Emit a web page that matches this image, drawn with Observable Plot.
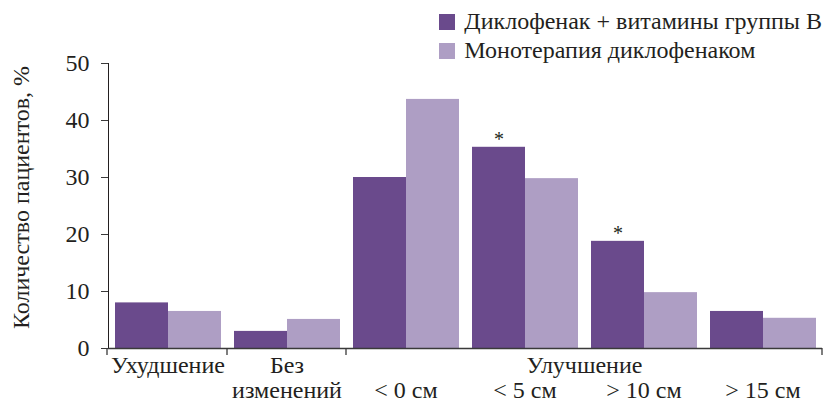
<!DOCTYPE html>
<html><head><meta charset="utf-8">
<script src="https://cdn.jsdelivr.net/npm/d3@7"></script>
<script src="https://cdn.jsdelivr.net/npm/@observablehq/plot@0.6"></script>
<style>
body{margin:0;background:#fff;}
#wrap{position:relative;width:826px;height:407px;font-family:'Liberation Serif',serif;color:#231f20;}
.legend{position:absolute;right:4px;top:7px;font-family:'Liberation Serif',serif;font-size:24px;}
.item{display:flex;align-items:center;height:29px;white-space:nowrap;}
.sw{width:16px;height:16px;margin-right:9px;flex:none;}
</style></head><body><div id="wrap"></div>
<script>
const categories = ["Ухудшение","Без изменений","< 0 см","< 5 см","> 10 см","> 15 см"];
const labelsTop = ["Ухудшение","Без","","","",""];
const labelsBottom = ["","изменений","< 0 см","< 5 см","> 10 см","> 15 см"];
const groupLabel = "Улучшение";
const seriesNames = ["Диклофенак + витамины группы В","Монотерапия диклофенаком"];
const combo = [8.0, 3.0, 30.0, 35.3, 18.8, 6.5];
const mono = [6.5, 5.1, 43.7, 29.8, 9.8, 5.3];
const significant = ["< 5 см", "> 10 см"];
const yTicks = [0,10,20,30,40,50];
const colors = ["#6a4a8c","#ae9ec4"];
const yLabel = "Количество пациентов, %";

const data = categories.flatMap((c,i)=>[
  {cat:c, series:seriesNames[0], value:combo[i]},
  {cat:c, series:seriesNames[1], value:mono[i]}
]);
const stars = data.filter(d => d.series === seriesNames[0] && significant.includes(d.cat));

const W = 826, H = 407, mL = 107, mR = 4, mT = 63, mB = 59;
const ink = "#231f20", axisColor = "#3a3a3a";
const FS = 24;

const plot = Plot.plot({
  width: W, height: H,
  marginTop: mT, marginBottom: mB, marginLeft: mL, marginRight: mR,
  style: `font-family: 'Liberation Serif', serif; font-size: ${FS}px; color: ${ink}; background: transparent;`,
  fx: {domain: categories, padding: 0, axis: null},
  x: {domain: seriesNames, paddingInner: 0, paddingOuter: 0.12, axis: null},
  y: {domain: [0, 50], ticks: yTicks, tickSize: 7, tickPadding: 12, line: true, label: null},
  color: {domain: seriesNames, range: colors},
  marks: [
    Plot.barY(data, {fx: "cat", x: "series", y: "value", fill: "series"}),
    Plot.ruleY([0], {stroke: axisColor, strokeWidth: 1.3}),
    Plot.text(stars, {fx: "cat", x: "series", y: "value", text: () => "*", dy: -8, fontSize: 20, fill: ink}),
    Plot.text(categories, {fx: d => d, text: (d,i) => labelsTop[i], frameAnchor: "bottom", dy: 24, fill: ink}),
    Plot.text(categories, {fx: d => d, text: (d,i) => labelsBottom[i], frameAnchor: "bottom", dy: 49, fill: ink}),
    Plot.text([categories[3]], {fx: d => d, text: () => groupLabel, frameAnchor: "bottom-right", textAnchor: "middle", dy: 24, fill: ink})
  ]
});

const svg = d3.select(plot);
svg.selectAll("[aria-label='y-axis'] path, [aria-label='y-axis tick'] path").attr("stroke", axisColor);
const fx = plot.scale("fx");
const y = plot.scale("y");
const y0 = y.apply(0);
const seps = [mL, fx.apply(categories[1]), fx.apply(categories[2]), W - mR];
svg.append("g").selectAll("line").data(seps).join("line")
  .attr("x1", d => d).attr("x2", d => d).attr("y1", y0).attr("y2", y0 + 7)
  .attr("stroke", axisColor).attr("stroke-width", 1.3);
svg.append("text")
  .attr("transform", `translate(23,${(y.apply(0)+y.apply(50))/2 - 8}) rotate(-90)`)
  .attr("text-anchor", "middle").attr("dominant-baseline", "middle")
  .attr("fill", ink).style("font-size", FS + "px").text(yLabel);

const wrap = document.getElementById("wrap");
wrap.appendChild(plot);
const leg = document.createElement("div");
leg.className = "legend";
seriesNames.forEach((s,i) => {
  const it = document.createElement("div"); it.className = "item";
  const sw = document.createElement("span"); sw.className = "sw"; sw.style.background = colors[i];
  const t = document.createElement("span"); t.textContent = s;
  it.appendChild(sw); it.appendChild(t); leg.appendChild(it);
});
wrap.appendChild(leg);
</script>
</body></html>
